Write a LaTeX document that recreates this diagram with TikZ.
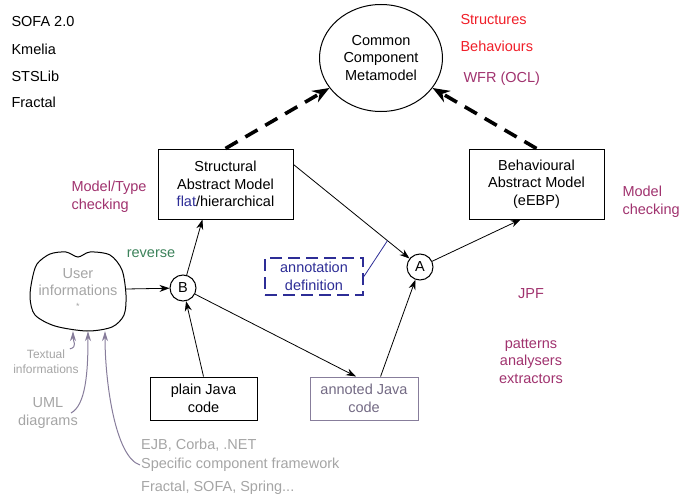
\documentclass[tikz,border=0pt]{standalone}
\usepackage{fontspec}
\setmainfont{Liberation Sans}
\usetikzlibrary{arrows.meta,shapes.geometric}
\definecolor{modelred}{RGB}{240,30,40}
\definecolor{checkpurple}{RGB}{160,50,110}
\definecolor{revgreen}{RGB}{60,130,90}
\definecolor{annblue}{RGB}{45,45,150}
\definecolor{usergray}{RGB}{165,165,165}
\definecolor{srcgray}{RGB}{135,125,155}

\begin{document}
\begin{tikzpicture}[x=1pt,y=-1pt,
	font=\fontsize{14.5}{17.5}\selectfont,
	>={Stealth[length=10pt,width=7pt]},
	absbox/.style={draw,line width=1pt,inner sep=0pt,align=center,minimum width=135,minimum height=70},
	codebox/.style={draw,line width=1pt,inner sep=0pt,align=center,minimum width=107,minimum height=43},
	op/.style={draw,circle,line width=1pt,inner sep=0pt,minimum size=26},
	link/.style={->,line width=0.8pt},
	meta/.style={->,line width=3.6pt,dash pattern=on 14pt off 9pt,>={Stealth[length=17pt,width=13pt]}},
	src/.style={->,line width=1pt,srcgray,>={Stealth[length=10pt,width=6pt]}},
	]
	\useasboundingbox (0,0) rectangle (683,495);

	% component models
	\node[anchor=west] (sofa) at (8,22) {SOFA 2.0};
	\node[anchor=west] (kmelia) at (8,49) {Kmelia};
	\node[anchor=west] (stslib) at (8,76) {STSLib};
	\node[anchor=west] (fractal) at (8,102) {Fractal};

	% metamodel
	\node[draw,ellipse,line width=1pt,inner sep=0pt,align=center,minimum width=123,minimum height=107] (ccm) at (381,58) {Common\\Component\\Metamodel};
	\node[anchor=west,modelred] (struct) at (457,20) {Structures};
	\node[anchor=west,modelred] (behav) at (457,46) {Behaviours};
	\node[anchor=west,checkpurple] (wfr) at (460,79) {WFR (OCL)};

	% abstract models
	\node[absbox] (sam) at (225.5,184) {Structural\\Abstract Model\\{\color{annblue}flat}/hierarchical};
	\node[absbox] (bam) at (536.5,184) {Behavioural\\Abstract Model\\(eEBP)};
	\node[anchor=west,align=left,checkpurple] (typechk) at (68,197) {Model/Type\\checking};
	\node[anchor=west,align=left,checkpurple] (modelchk) at (619,202) {Model\\checking};

	\draw[meta] (sam.north) -- (ccm);
	\draw[meta] (bam.north) -- (ccm);

	% operators
	\node[op] (B) at (183,288) {B};
	\node[op] (A) at (420,267) {A};
	\node[revgreen] (rev) at (151,254) {reverse};

	% user informations
	\draw[line width=1pt] plot[smooth cycle] coordinates {(32,280) (37,264) (50,254) (66,252) (78,257) (90,252) (110,255) (122,270) (126,295) (124,315) (112,327) (87,331) (55,326) (35,315) (30,298)};
	\node[usergray,align=center,minimum width=96,minimum height=84,inner sep=0pt] (user) at (78,289) {User\\informations\\[-4pt]{\small *}};

	% annotation
	\node[draw=annblue,annblue,line width=1.8pt,dash pattern=on 12pt off 6pt,align=center,minimum width=98,minimum height=37,inner sep=0pt] (ann) at (314,276.5) {annotation\\definition};

	% java code
	\node[codebox] (pjc) at (203.5,398.5) {plain Java\\code};
	\node[codebox,draw=srcgray,text=srcgray!85!black,minimum width=108] (ajc) at (364,398.5) {annoted Java\\code};

	% analyses
	\node[checkpurple] (jpf) at (531,294) {JPF};
	\node[checkpurple,align=center] (tools) at (531,361) {patterns\\analysers\\extractors};

	% connectors
	\draw[link] (sam.16) -- (A) coordinate[pos=0.81] (annpt);
	\draw[annblue,line width=0.8pt] (ann.east) -- (annpt);
	\draw[link] (A) -- (bam.246);
	\draw[link] (B) -- (sam.237);
	\draw[link] (user.east) -- (B);
	\draw[link] (pjc.north) -- (B);
	\draw[link] (B) -- (ajc.110);
	\draw[link] (ajc.53) -- (A);

	% sources of user informations
	\node[usergray,align=center,inner sep=1pt,font=\fontsize{12}{15}\selectfont] (txt) at (46,362) {Textual\\informations};
	\node[usergray,align=center,inner sep=1pt] (uml) at (48,413) {UML\\diagrams};
	\node[usergray,anchor=west,inner sep=1pt] (ejb) at (140,445) {EJB, Corba, .NET};
	\node[usergray,anchor=west,inner sep=1pt] (spec) at (140,465) {Specific component framework};
	\node[usergray,anchor=west,inner sep=1pt] (frw) at (140,488) {Fractal, SOFA, Spring...};

	\draw[src] ([xshift=-10pt]txt.north east) .. controls +(8,-2) and +(0,10) .. ([xshift=-5pt]user.south);
	\draw[src] ([xshift=-8pt]uml.east) .. controls +(15,-8) and +(0,40) .. ([xshift=10pt]user.south);
	\draw[src] (spec.west) .. controls +(-25,-8) and +(0,50) .. ([xshift=27pt]user.south);
\end{tikzpicture}
\end{document}
